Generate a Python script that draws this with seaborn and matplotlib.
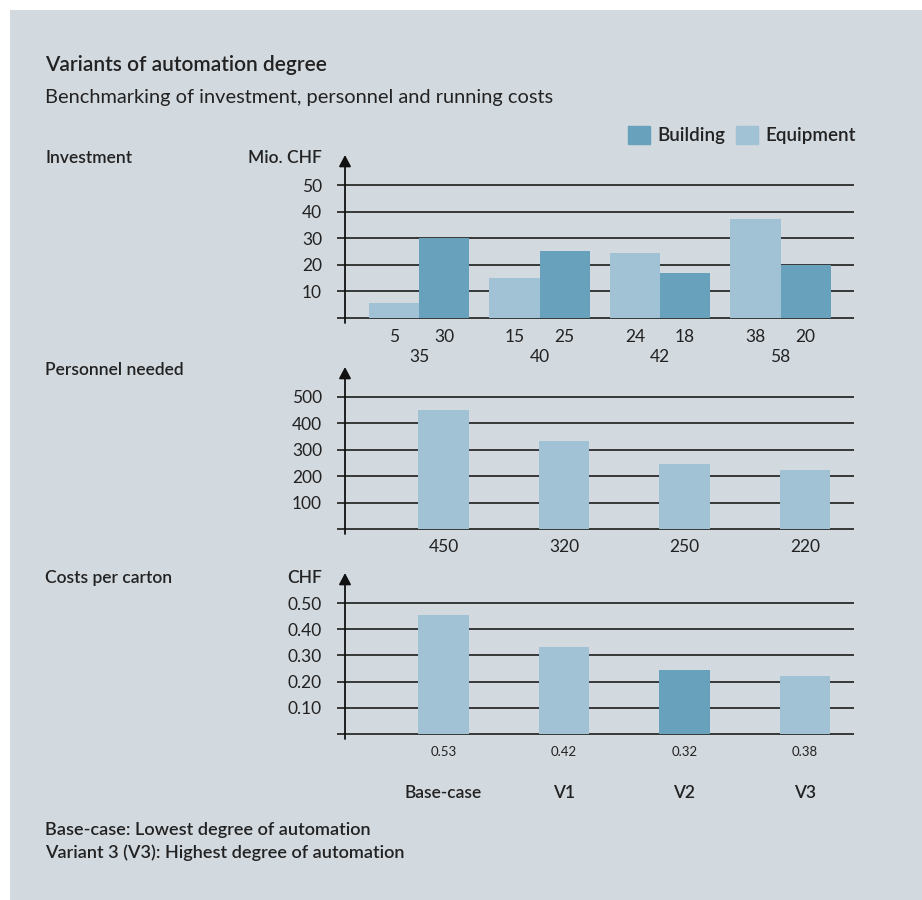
import pandas as pd
import matplotlib.pyplot as plt
import seaborn as sns
from matplotlib.patches import Patch, Rectangle

# data
variants = ['Base-case', 'V1', 'V2', 'V3']
equipment_bar = [5.6, 15, 24.3, 37.1]
building_bar = [30, 25, 16.8, 20]
equipment_lbl = [5, 15, 24, 38]
building_lbl = [30, 25, 18, 20]
invest_total = [35, 40, 42, 58]
personnel_bar = [449, 333, 246, 224]
personnel_lbl = [450, 320, 250, 220]
cost_bar = [0.454, 0.332, 0.244, 0.221]
cost_lbl = ['0.53', '0.42', '0.32', '0.38']
cost_kind = ['Equipment', 'Equipment', 'Building', 'Equipment']

BG = '#d2d9df'
C_BUILD = '#68a1bc'
C_EQUIP = '#a0c2d4'
INK = '#222222'
LINE = '#2a2a2a'
palette = {'Building': C_BUILD, 'Equipment': C_EQUIP}

sns.set_theme(style='white')
plt.rcParams['font.family'] = ['Lato', 'DejaVu Sans']
plt.rcParams['text.color'] = INK
plt.rcParams['ytick.color'] = INK

W, H = 922, 900
fig = plt.figure(figsize=(W / 100, H / 100), dpi=100)
fig.patch.set_facecolor('white')
fig.patches.append(Rectangle((10 / W, 0), 1, 1 - 10 / H, transform=fig.transFigure,
                             facecolor=BG, edgecolor='none', zorder=-10))


def fx(px):
    return px / W


def fy(py):
    return 1 - py / H


def px2pt(px):
    return px * 0.72


def make_ax(top_px, bottom_px):
    ax = fig.add_axes([fx(337), fy(bottom_px), fx(854) - fx(337), fy(top_px) - fy(bottom_px)])
    ax.set_facecolor('none')
    return ax


def style_ax(ax, ticks, labels, ylim, xlim, spine_x):
    ax.set_ylim(*ylim)
    ax.set_xlim(*xlim)
    ax.set_yticks(ticks)
    ax.set_yticklabels(labels, fontsize=12.5)
    ax.set_xticks([])
    ax.set_xlabel('')
    ax.set_ylabel('')
    ax.tick_params(axis='y', length=0, pad=px2pt(15))
    ax.yaxis.grid(True, color=LINE, lw=1.3)
    ax.set_axisbelow(True)
    for s in ax.spines.values():
        s.set_visible(False)
    ax.annotate('', xy=(spine_x, ylim[1]), xytext=(spine_x, ylim[0]),
                arrowprops=dict(arrowstyle='-|>,head_length=0.38,head_width=0.2',
                                mutation_scale=18, color='#111111', lw=1.3,
                                shrinkA=0, shrinkB=0))


def under(ax, x, text, dy_px, size=12.5, weight='normal'):
    ax.annotate(text, xy=(x, 0), xytext=(0, -px2pt(dy_px)), textcoords='offset points',
                ha='center', va='center', fontsize=size, fontweight=weight, color=INK)


# ---------- header ----------
fig.text(fx(45), fy(65), 'Variants of automation degree', fontsize=15, fontweight='semibold',
         va='center', ha='left')
fig.text(fx(45), fy(98), 'Benchmarking of investment, personnel and running costs', fontsize=14.4,
         va='center', ha='left')
fig.legend(handles=[Patch(color=C_BUILD, label='Building'), Patch(color=C_EQUIP, label='Equipment')],
           loc='center right', bbox_to_anchor=(fx(856), fy(135)), ncol=2, frameon=False,
           handlelength=1.15, handleheight=1.15, handletextpad=0.4,
           columnspacing=0.6, borderpad=0, borderaxespad=0, prop={'weight': 'semibold', 'size': 13.5})

# ---------- investment ----------
inv = pd.DataFrame({
    'variant': variants * 2,
    'kind': ['Equipment'] * 4 + ['Building'] * 4,
    'value': equipment_bar + building_bar,
})
ax1 = make_ax(155, 323)
sns.barplot(data=inv, x='variant', y='value', hue='kind', hue_order=['Equipment', 'Building'],
            order=variants, palette=palette, width=0.83, saturation=1, linewidth=0,
            legend=False, ax=ax1)
style_ax(ax1, [0, 10, 20, 30, 40, 50], ['', '10', '20', '30', '40', '50'],
         (-5 / 2.66, 163 / 2.66), ((337 - 419) / 120.5, (854 - 419) / 120.5), (345 - 419) / 120.5)
for i in range(len(variants)):
    under(ax1, i - 0.2075, str(equipment_lbl[i]), 19)
    under(ax1, i + 0.2075, str(building_lbl[i]), 19)
    under(ax1, i, str(invest_total[i]), 39)
fig.text(fx(45), fy(158), 'Investment', fontsize=12.5, fontweight='semibold', va='center')
fig.text(fx(322), fy(158), 'Mio. CHF', fontsize=12.5, fontweight='semibold', va='center', ha='right')

# ---------- personnel ----------
per = pd.DataFrame({'variant': variants, 'value': personnel_bar})
ax2 = make_ax(367, 534)
sns.barplot(data=per, x='variant', y='value', order=variants, color=C_EQUIP, width=0.415,
            saturation=1, linewidth=0, ax=ax2)
style_ax(ax2, [0, 100, 200, 300, 400, 500], ['', '100', '200', '300', '400', '500'],
         (-5 / 0.2652, 162.3 / 0.2652), ((337 - 443.5) / 120.5, (854 - 443.5) / 120.5),
         (345 - 443.5) / 120.5)
for i in range(len(variants)):
    under(ax2, i, str(personnel_lbl[i]), 18)
fig.text(fx(45), fy(370), 'Personnel needed', fontsize=12.5, fontweight='semibold', va='center')

# ---------- costs per carton ----------
cost = pd.DataFrame({'variant': variants, 'value': cost_bar, 'kind': cost_kind})
ax3 = make_ax(573, 739)
sns.barplot(data=cost, x='variant', y='value', hue='kind', order=variants, palette=palette,
            dodge=False, width=0.415, saturation=1, linewidth=0, legend=False, ax=ax3)
style_ax(ax3, [0, 0.1, 0.2, 0.3, 0.4, 0.5], ['', '0.10', '0.20', '0.30', '0.40', '0.50'],
         (-5 / 262, 161 / 262), ((337 - 443.5) / 120.5, (854 - 443.5) / 120.5),
         (345 - 443.5) / 120.5)
for i in range(len(variants)):
    under(ax3, i, cost_lbl[i], 18, size=9.5)
    under(ax3, i, variants[i], 59, size=12.5, weight='semibold')
fig.text(fx(45), fy(578), 'Costs per carton', fontsize=12.5, fontweight='semibold', va='center')
fig.text(fx(322), fy(578), 'CHF', fontsize=12.5, fontweight='semibold', va='center', ha='right')

# ---------- footnote ----------
fig.text(fx(45), fy(830), 'Base-case: Lowest degree of automation', fontsize=13.1,
         fontweight='semibold', va='center')
fig.text(fx(45), fy(853), 'Variant 3 (V3): Highest degree of automation', fontsize=13.1,
         fontweight='semibold', va='center')

fig.savefig('out.png', dpi=100, facecolor='white')
